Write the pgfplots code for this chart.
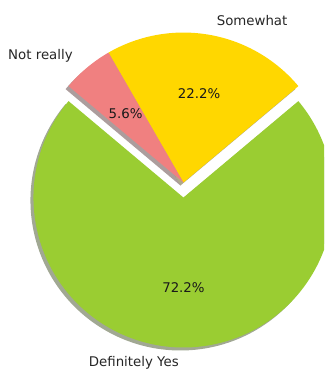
\documentclass[border=0pt]{standalone}
\usepackage{pgfplots}
\pgfplotsset{compat=1.18}
\usepackage{fontspec}
\setmainfont{DejaVu Sans}
\definecolor{cYes}{RGB}{154,205,50}
\definecolor{cSome}{RGB}{255,215,0}
\definecolor{cNot}{RGB}{240,128,128}
\definecolor{sYes}{RGB}{46,62,15}
\definecolor{sSome}{RGB}{77,65,0}
\definecolor{sNot}{RGB}{72,38,38}
\begin{document}
\begin{tikzpicture}
% data: shares of answers (72.2 %, 22.2 %, 5.6 %)
\def\vA{13}\def\vB{4}\def\vC{1}
\pgfmathsetmacro\tot{\vA+\vB+\vC}
\pgfmathsetmacro\aA{140}
\pgfmathsetmacro\aB{\aA+360*\vA/\tot}
\pgfmathsetmacro\aC{\aB+360*\vB/\tot}
\pgfmathsetmacro\aD{\aC+360*\vC/\tot}
\def\ex{0.1}
\begin{axis}[scale only axis, width=243pt, height=277.5pt,
  xmin=-1.223, xmax=0.937, ymin=-1.25, ymax=1.217,
  hide axis, clip=true,
  every node/.append style={inner sep=0pt, outer sep=0pt, font=\fontsize{10}{12}\selectfont}]
% shadows
\addplot[draw=none, fill=sYes, opacity=0.45, domain=\aA:\aB, samples=200]
  ({-0.02+cos(x)}, {-0.02-\ex+sin(x)}) -- (axis cs:-0.02,-0.12) -- cycle;
\addplot[draw=none, fill=sSome, opacity=0.45, domain=\aB:\aC, samples=80]
  ({-0.02+cos(x)}, {-0.02+sin(x)}) -- (axis cs:-0.02,-0.02) -- cycle;
\addplot[draw=none, fill=sNot, opacity=0.45, domain=\aC:\aD, samples=30]
  ({-0.02+cos(x)}, {-0.02+sin(x)}) -- (axis cs:-0.02,-0.02) -- cycle;
% wedges
\addplot[draw=none, fill=cYes, domain=\aA:\aB, samples=200]
  ({cos(x)}, {-\ex+sin(x)}) -- (axis cs:0,-0.1) -- cycle;
\addplot[draw=none, fill=cSome, domain=\aB:\aC, samples=80]
  ({cos(x)}, {sin(x)}) -- (axis cs:0,0) -- cycle;
\addplot[draw=none, fill=cNot, domain=\aC:\aD, samples=30]
  ({cos(x)}, {sin(x)}) -- (axis cs:0,0) -- cycle;
% labels
\node[anchor=west, text=black!85] at (axis cs:0.191,1.083) {Somewhat};
\node[anchor=east, text=black!85] at (axis cs:-0.707,0.843) {Not really};
\node[anchor=east, text=black!85] at (axis cs:0,-1.2) {Definitely Yes};
\node[text=black!90] at (axis cs:0.104,0.591) {22.2\%};
\node[text=black!90] at (axis cs:-0.386,0.460) {5.6\%};
\node[text=black!90] at (axis cs:0,-0.7) {72.2\%};
\end{axis}
\pgfresetboundingbox
\path (current axis.south west) rectangle (current axis.north east);
\end{tikzpicture}
\end{document}
